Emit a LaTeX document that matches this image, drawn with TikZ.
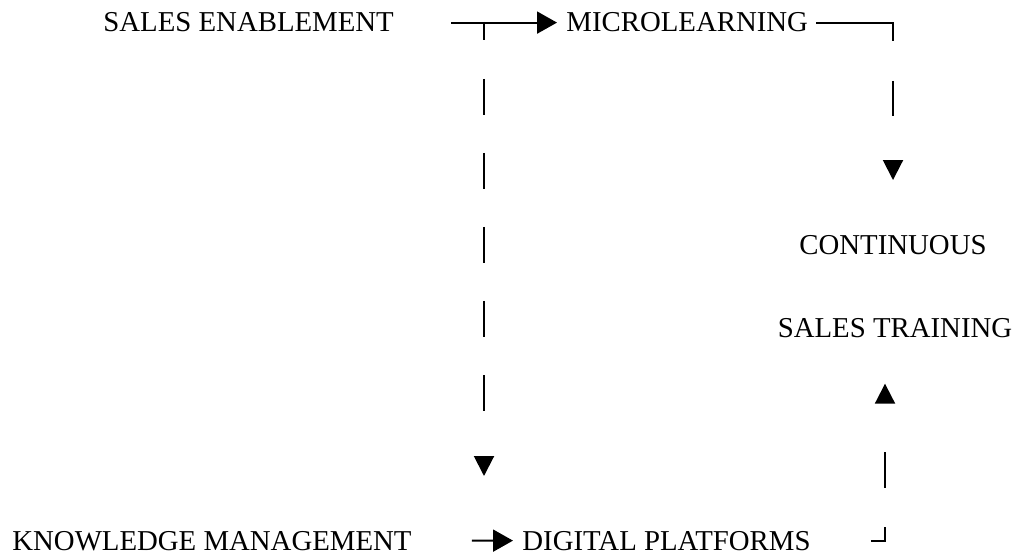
\documentclass[tikz,border=0pt]{standalone}
\usepackage{fontspec}
\setmainfont{Liberation Serif}
\usetikzlibrary{arrows.meta}

\begin{document}
\begin{tikzpicture}[x=0.5pt,y=-0.5pt,
    every node/.style={inner sep=0pt,font=\fontsize{14.4pt}{17pt}\selectfont},
    flow/.style={line width=1pt,-{Triangle[length=10pt,width=11pt]}},
    drop/.style={line width=1pt,-{Triangle[length=10pt,width=10pt]}}]
  \useasboundingbox (0,0) rectangle (1016,555);
  \path (103,32) node[anchor=base west] (enable) {SALES ENABLEMENT}
        (566,32) node[anchor=base west] (micro) {MICROLEARNING}
        (893,255) node[anchor=base] (cont) {CONTINUOUS}
        (895,337) node[anchor=base] (train) {SALES TRAINING}
        (12,550) node[anchor=base west] (know) {KNOWLEDGE MANAGEMENT}
        (522,550) node[anchor=base west] (digital) {DIGITAL PLATFORMS};
  \coordinate (split) at (484,22);
  \coordinate (dropL) at (484,476);
  \draw [flow,shorten <=28.5pt,shorten >=4.5pt] (enable.east) -- (micro.west);
  \draw [drop,dash pattern=on 9pt off 19.5pt on 18pt off 19pt on 18pt off 19pt on 18pt off 19pt on 18pt off 19pt on 18pt off 50pt] (split) -- (dropL);
  \draw [drop,shorten <=4pt,shorten >=27.75pt,dash pattern=on 47.5pt off 20pt on 17.5pt off 100pt] (micro.east) -| (cont.north);
  \draw [drop,shorten <=30pt,shorten >=23pt,dash pattern=on 14pt off 19.5pt on 18pt off 100pt] (digital.east) -| ([xshift=-5pt]train.south);
  \draw [flow,shorten <=30pt,shorten >=4.5pt] (know.east) -- (digital.west);
\end{tikzpicture}
\end{document}
